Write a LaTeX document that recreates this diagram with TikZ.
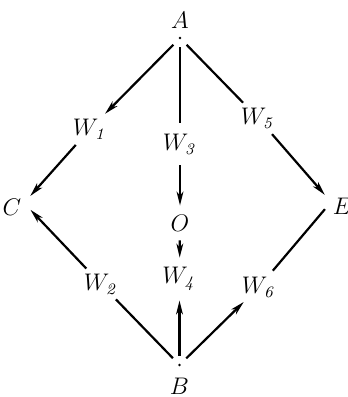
\documentclass[tikz,border=0pt]{standalone}
\usetikzlibrary{arrows.meta}
\begin{document}
\begin{tikzpicture}[x=0.5pt,y=-0.5pt,
  lbl/.style={font=\large, inner sep=0pt},
  wnode/.style={font=\large, circle, inner sep=0pt, minimum size=21pt},
  pnt/.style={circle, inner sep=0pt, minimum size=9pt},
  onode/.style={font=\large, circle, inner sep=0pt, minimum size=17pt},
  edge/.style={line width=1.1pt},
  arr/.style={edge, -{Stealth[length=7pt,width=3.4pt,inset=2pt]}},
  dot/.style={fill=black},
]
\useasboundingbox (0,0) rectangle (348,397);
% points
\node[pnt, label={[lbl, label distance=0pt]above:$A$}] (A) at (180,38) {};
\node[pnt, label={[lbl, label distance=1.5pt]below:$B$}] (B) at (179.5,365) {};
\node[pnt, label={[lbl, label distance=-3.5pt, yshift=-2pt]left:$C$}] (C) at (24,203) {};
\node[pnt, label={[lbl, label distance=-4pt, yshift=-2pt]right:$E$}] (E) at (331,202) {};
\node[onode] (O) at (180,223) {$O$};
% W nodes
\node[wnode] (W1) at (90,129) {$W_{\mathit 1}$};
\node[wnode] (W2) at (101,284) {$W_{\mathit 2}$};
\node[wnode] (W3) at (180,144) {$W_{\mathit 3}$};
\node[wnode] (W4) at (179.5,279) {$W_{\mathit 4}$};
\node[wnode] (W5) at (258,118) {$W_{\mathit 5}$};
\node[wnode] (W6) at (259,287) {$W_{\mathit 6}$};
% dots
\fill[dot] (A.center) circle (1.4);
\fill[dot] (B.center) circle (1.4);
% connectors
\draw[arr] (A) -- (W1);
\draw[arr] (W1) -- (C);
\draw[edge] (A) -- (W3);
\draw[arr] (W3) -- (O);
\draw[arr] (O) -- (W4);
\draw[arr] (B) -- (W4);
\draw[edge] (A) -- (W5);
\draw[arr] (W5) -- (E);
\draw[edge] (B) -- (W2);
\draw[arr] (W2) -- (C);
\draw[arr] (B) -- (W6);
\draw[edge] (W6) -- (E);
\end{tikzpicture}
\end{document}
